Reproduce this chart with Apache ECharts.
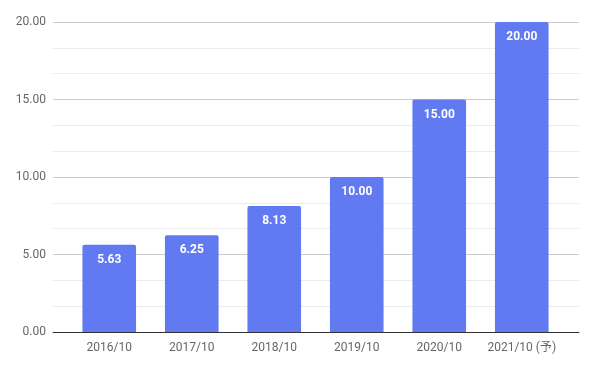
<!DOCTYPE html>
<html><head><meta charset="utf-8">
<script src="https://cdn.jsdelivr.net/npm/echarts@6/dist/echarts.min.js"></script>
<style>html,body{margin:0;padding:0;background:#fff}#c{width:596px;height:368px}</style>
</head><body><div id="c"></div>
<script>
const categories = ['2016/10','2017/10','2018/10','2019/10','2020/10','2021/10 (予)'];
const values = [5.63, 6.25, 8.13, 10.00, 15.00, 20.00];
const yTicks = [0, 5, 10, 15, 20];

const chart = echarts.init(document.getElementById('c'));
const font = 'Roboto, "Noto Sans CJK JP", sans-serif';
chart.setOption({
  animation: false,
  grid: [
    {left: 53, right: 17, top: 22, bottom: 36},
    {left: 68, right: 33, top: 22, bottom: 36}
  ],
  xAxis: [
    {gridIndex: 0, type: 'value', min: 0, max: 1, axisLabel: {show: false}, axisTick: {show: false}, splitLine: {show: false},
     axisLine: {show: true, onZero: false, lineStyle: {color: '#333', width: 1}}},
    {gridIndex: 1, type: 'category', data: categories, axisLine: {show: false}, axisTick: {show: false},
     axisLabel: {color: '#666', fontSize: 12, fontFamily: font, margin: 10, interval: 0, hideOverlap: false}}
  ],
  yAxis: [
    {gridIndex: 0, type: 'value', min: yTicks[0], max: yTicks[yTicks.length-1], interval: 5,
     axisLine: {show: false}, axisTick: {show: false},
     axisLabel: {color: '#666', fontSize: 12, fontFamily: font, margin: 7, formatter: v => v.toFixed(2)},
     splitLine: {show: true, lineStyle: {color: '#ccc'}},
     minorTick: {show: false, splitNumber: 3},
     minorSplitLine: {show: true, lineStyle: {color: '#ebebeb'}}},
    {gridIndex: 1, type: 'value', min: 0, max: 20, show: false, splitLine: {show: false}}
  ],
  series: [{
    type: 'bar', xAxisIndex: 1, yAxisIndex: 1, data: values, barWidth: '65%',
    itemStyle: {color: '#617af2', borderRadius: [2,2,0,0]},
    label: {show: true, position: 'insideTop', distance: 9, color: '#fff', fontWeight: 'bold', fontSize: 12, fontFamily: font,
            formatter: p => p.value.toFixed(2)}
  }]
});
</script></body></html>
